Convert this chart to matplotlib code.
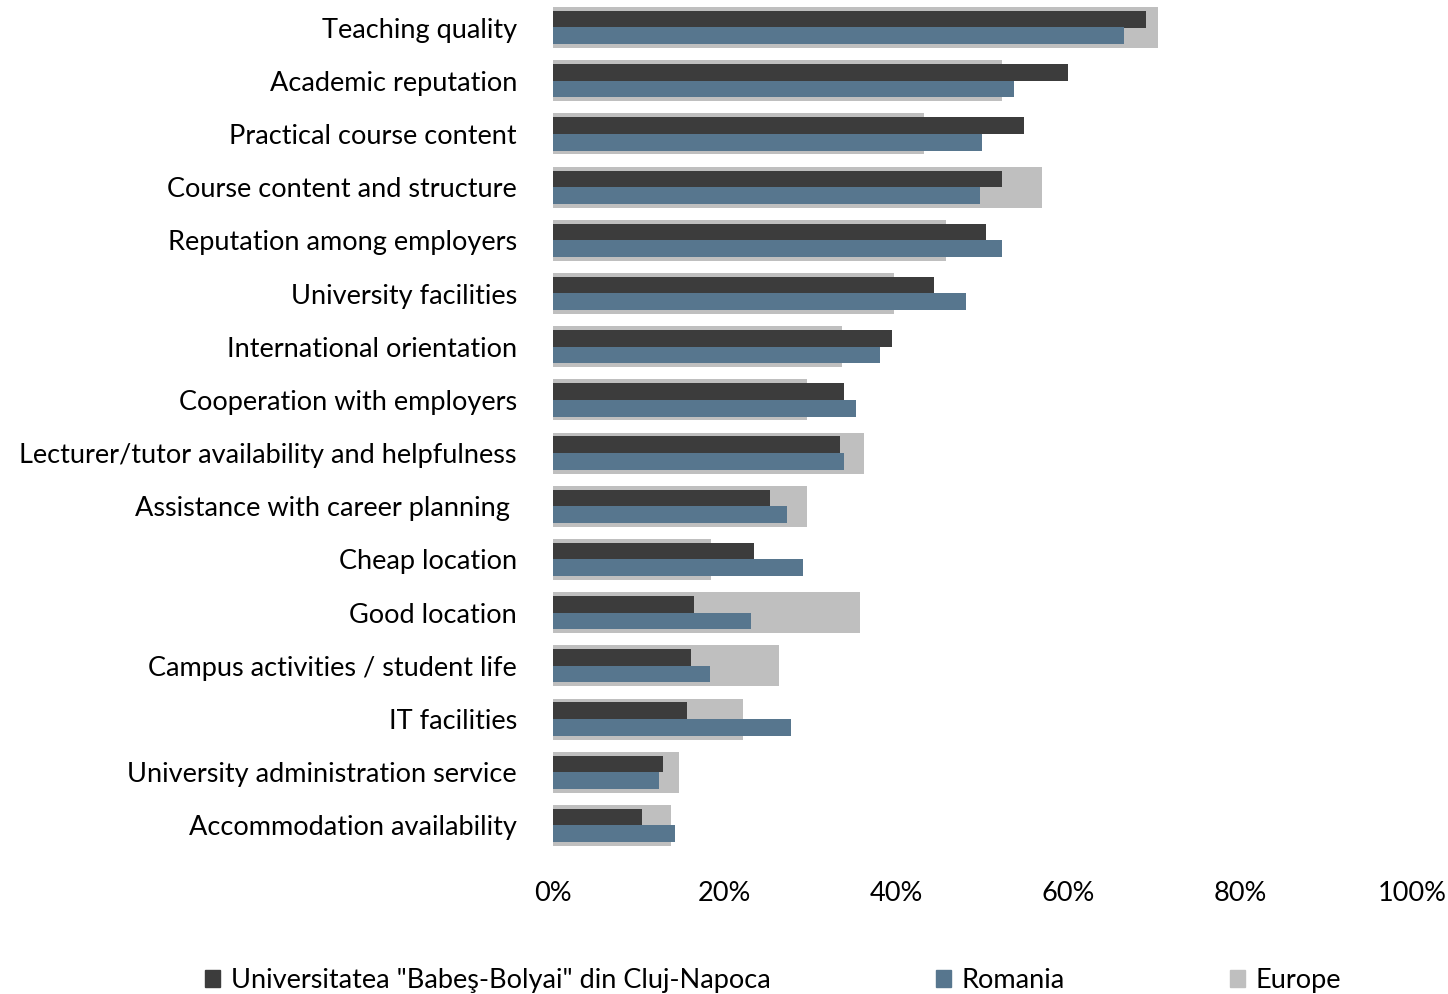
import matplotlib
matplotlib.use("Agg")
import matplotlib.pyplot as plt
from matplotlib.patches import Patch
import numpy as np

categories = [
    "Teaching quality",
    "Academic reputation",
    "Practical course content",
    "Course content and structure",
    "Reputation among employers",
    "University facilities",
    "International orientation",
    "Cooperation with employers",
    "Lecturer/tutor availability and helpfulness",
    "Assistance with career planning ",
    "Cheap location",
    "Good location",
    "Campus activities / student life",
    "IT facilities",
    "University administration service",
    "Accommodation availability",
]
ubb = [69.0, 60.0, 54.8, 52.3, 50.4, 44.4, 39.5, 33.9, 33.4, 25.3, 23.4, 16.4, 16.1, 15.6, 12.8, 10.4]
romania = [66.5, 53.7, 49.9, 49.7, 52.3, 48.1, 38.1, 35.3, 33.9, 27.2, 29.1, 23.1, 18.3, 27.7, 12.3, 14.2]
europe = [70.4, 52.3, 43.2, 56.9, 45.8, 39.7, 33.6, 29.6, 36.2, 29.6, 18.4, 35.7, 26.3, 22.1, 14.7, 13.7]
xticks = [0, 20, 40, 60, 80, 100]
xticklabels = ["0%", "20%", "40%", "60%", "80%", "100%"]
series_names = ['Universitatea "Babeş-Bolyai" din Cluj-Napoca', "Romania", "Europe"]

c_ubb = "#3c3c3c"
c_rom = "#57768e"
c_eur = "#bfbfbf"

plt.rcParams["font.family"] = ["Lato", "DejaVu Sans"]

fig = plt.figure(figsize=(14.48, 9.94), dpi=100)
ax = fig.add_axes([553 / 1448, 1 - 852 / 994, (1412 - 553) / 1448, 851 / 994])

y = np.arange(len(categories))
ax.barh(y, europe, height=0.77, color=c_eur, zorder=1)
ax.barh(y - 0.155, ubb, height=0.315, color=c_ubb, zorder=2)
ax.barh(y + 0.155, romania, height=0.315, color=c_rom, zorder=2)

ax.set_xlim(0, 100)
ax.set_ylim(len(categories) - 0.5, -0.5)
ax.set_yticks(y)
ax.set_yticklabels(categories, fontsize=19.5)
ax.set_xticks(xticks)
ax.set_xticklabels(xticklabels, fontsize=19.5)
ax.tick_params(axis="both", length=0)
ax.tick_params(axis="y", pad=26)
ax.tick_params(axis="x", pad=21)
for s in ax.spines.values():
    s.set_visible(False)

handles = [Patch(color=c_ubb), Patch(color=c_rom), Patch(color=c_eur)]
fig.legend(handles, series_names, loc="center", bbox_to_anchor=(0.534, 0.0135),
           ncol=3, frameon=False, fontsize=19.5, handlelength=0.55, handleheight=0.55,
           handletextpad=0.4, columnspacing=6.1)

fig.savefig("out.png", dpi=100)
